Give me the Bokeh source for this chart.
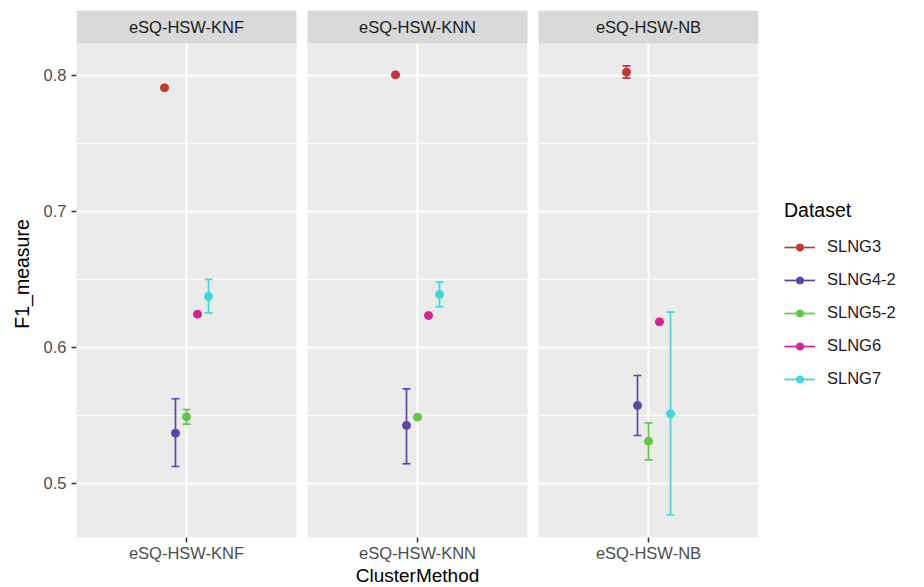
from bokeh.plotting import figure
from bokeh.models import FactorRange, Range1d, FixedTicker, Legend, LegendItem, ColumnDataSource
from bokeh.transform import dodge
from bokeh.core.properties import value
from bokeh.embed import file_html
from bokeh.resources import INLINE

# ---- data ----
categories = ["eSQ-HSW-KNF", "eSQ-HSW-KNN", "eSQ-HSW-NB"]
datasets = ["SLNG3", "SLNG4-2", "SLNG5-2", "SLNG6", "SLNG7"]
colors = ["#BE3A34", "#5B46A8", "#63C54A", "#D6238E", "#3ED8D8"]

mean_slng3 = [0.791, 0.8005, 0.8024]
low_slng3 = [0.7902, 0.7997, 0.7980]
up_slng3 = [0.7918, 0.8013, 0.8070]

mean_slng42 = [0.537, 0.5427, 0.5574]
low_slng42 = [0.5125, 0.5145, 0.5353]
up_slng42 = [0.5623, 0.5696, 0.5794]

mean_slng52 = [0.5490, 0.5488, 0.5311]
low_slng52 = [0.5436, 0.5480, 0.5174]
up_slng52 = [0.5544, 0.5496, 0.5446]

mean_slng6 = [0.6245, 0.6235, 0.6189]
low_slng6 = [0.6240, 0.6230, 0.6184]
up_slng6 = [0.6250, 0.6240, 0.6194]

mean_slng7 = [0.6375, 0.6390, 0.5512]
low_slng7 = [0.6255, 0.6300, 0.4770]
up_slng7 = [0.6500, 0.6480, 0.6260]

means = [mean_slng3, mean_slng42, mean_slng52, mean_slng6, mean_slng7]
lows = [low_slng3, low_slng42, low_slng52, low_slng6, low_slng7]
ups = [up_slng3, up_slng42, up_slng52, up_slng6, up_slng7]

yticks = [0.5, 0.6, 0.7, 0.8]
yminor = [0.55, 0.65, 0.75]

# ---- layout constants ----
FONT = "Liberation Sans"
SMALL = "16.5px"
BIG = "19.5px"
gap = 0.05           # gap between facet panels (factor units)
dodge_step = 0.05    # dodge spacing between datasets
cap_half = 0.018     # half width of error-bar caps
y_lo, y_data_hi, y_hi = 0.46029, 0.82353, 0.84779

p = figure(
    x_range=FactorRange(*categories, factor_padding=gap, range_padding=0),
    y_range=Range1d(y_lo, y_hi),
    frame_width=682, frame_height=527,
    min_border_left=76, min_border_top=10, min_border_bottom=50, min_border_right=166,
    output_backend="svg", toolbar_location=None,
    background_fill_color="white", border_fill_color="white", outline_line_color=None,
)

# panel backgrounds (under grid)
panel_mid = (y_lo + y_data_hi) / 2
panel_h = y_data_hi - y_lo
p.rect(x=categories, y=[panel_mid] * 3, width=1, height=panel_h,
       fill_color="#EBEBEB", line_color=None, level="image")

# strips
strip_mid = (y_data_hi + y_hi) / 2
strip_h = y_hi - y_data_hi
p.rect(x=categories, y=[strip_mid] * 3, width=1, height=strip_h,
       fill_color="#D9D9D9", line_color=None)
p.text(x=categories, y=[strip_mid] * 3, text=categories, text_align="center",
       text_baseline="middle", text_font=value(FONT), text_font_size=SMALL,
       text_color="#1A1A1A")

# grid
p.ygrid.ticker = FixedTicker(ticks=yticks, minor_ticks=yminor)
p.ygrid.grid_line_color = "white"
p.ygrid.grid_line_width = 2
p.ygrid.minor_grid_line_color = "white"
p.ygrid.minor_grid_line_width = 1
p.xgrid.grid_line_color = "white"
p.xgrid.grid_line_width = 2

# axes
p.yaxis.ticker = FixedTicker(ticks=yticks, minor_ticks=yminor)
for ax in (p.xaxis[0], p.yaxis[0]):
    ax.axis_line_color = None
    ax.major_tick_line_color = "#333333"
    ax.major_tick_line_width = 1.5
    ax.major_tick_out = 5
    ax.major_tick_in = 0
    ax.minor_tick_line_color = None
    ax.major_label_text_font = FONT
    ax.major_label_text_font_size = SMALL
    ax.major_label_text_color = "#4D4D4D"
    ax.axis_label_text_font = FONT
    ax.axis_label_text_font_size = BIG
    ax.axis_label_text_font_style = "normal"
    ax.axis_label_text_color = "#000000"
p.xaxis.axis_label_text_font_size = "19px"
p.yaxis.axis_label = "F1_measure"
p.xaxis.axis_label = "ClusterMethod"
p.yaxis.major_label_standoff = 5
p.xaxis.major_label_standoff = 1
p.yaxis.axis_label_standoff = 8
p.xaxis.axis_label_standoff = 0

# data
items = []
for i, name in enumerate(datasets):
    off = (i - 2) * dodge_step
    c = colors[i]
    src = ColumnDataSource(dict(cat=categories, mean=means[i], lower=lows[i], upper=ups[i]))
    seg = p.segment(x0=dodge("cat", off, range=p.x_range), y0="lower",
                    x1=dodge("cat", off, range=p.x_range), y1="upper",
                    line_color=c, line_width=1.7, source=src)
    for col in ("lower", "upper"):
        p.segment(x0=dodge("cat", off - cap_half, range=p.x_range), y0=col,
                  x1=dodge("cat", off + cap_half, range=p.x_range), y1=col,
                  line_color=c, line_width=1.7, source=src)
    pts = p.scatter(x=dodge("cat", off, range=p.x_range), y="mean", size=8,
                    fill_color=c, line_color=c, source=src)
    items.append(LegendItem(label=name, renderers=[seg, pts]))

legend = Legend(items=items, title="Dataset", location=(26, 149),
                title_text_font=FONT, title_text_font_size=BIG, title_text_font_style="normal",
                title_text_color="#000000", title_standoff=15,
                label_text_font=FONT, label_text_font_size=SMALL, label_text_color="#1A1A1A",
                border_line_color=None, background_fill_color="white",
                glyph_width=31, glyph_height=18, spacing=14, label_standoff=12,
                padding=10, margin=0)
p.add_layout(legend, "right")

open("out.html", "w").write(file_html(p, INLINE))
